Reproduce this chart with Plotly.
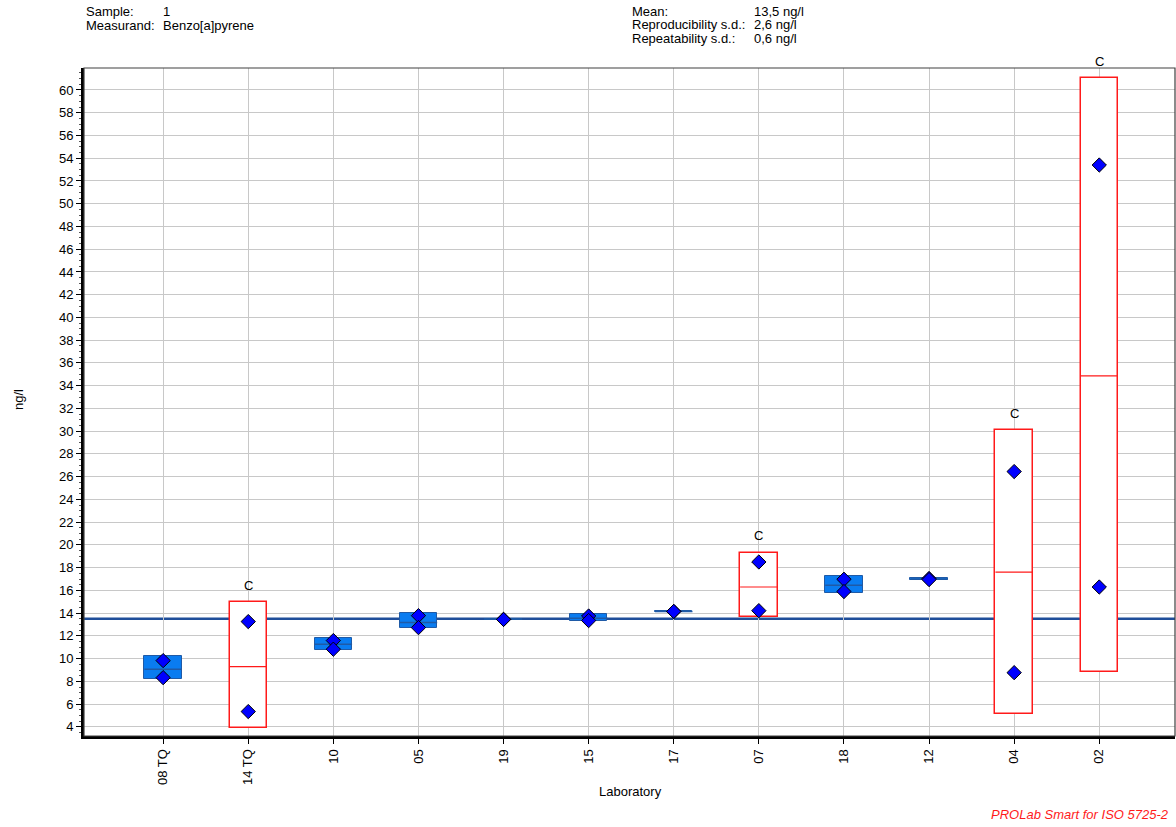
import plotly.graph_objects as go

# ---- data ----
labs = ["08 TQ", "14 TQ", "10", "05", "19", "15", "17", "07", "18", "12", "04", "02"]
box_low = [8.19, 3.94, 10.77, 12.68, 13.40, 13.35, 14.10, 13.70, 15.80, 16.93, 5.17, 8.80]
box_high = [10.27, 14.96, 11.85, 14.00, 13.52, 13.90, 14.18, 19.30, 17.27, 17.08, 30.10, 61.05]
box_mid = [9.07, 9.30, 11.27, 13.17, 13.46, 13.55, 14.14, 16.30, 16.46, 17.01, 17.60, 34.86]
value_a = [9.83, 13.26, 11.59, 13.78, 13.45, 13.75, 14.15, 18.50, 16.98, 17.05, 26.45, 53.40]
value_b = [8.33, 5.35, 10.83, 12.73, 13.45, 13.35, 14.15, 14.22, 15.90, 16.95, 8.77, 16.30]
flag_c = [False, True, False, False, False, False, False, True, False, False, True, True]
MEAN = 13.5
y_ticks = list(range(4, 61, 2))

header_left = [("Sample:", "1"), ("Measurand:", "Benzo[a]pyrene")]
header_right = [("Mean:", "13,5 ng/l"), ("Reproducibility s.d.:", "2,6 ng/l"),
                ("Repeatability s.d.:", "0,6 ng/l")]

HALF = 0.22
xs = list(range(len(labs)))
ok = [i for i in xs if not flag_c[i]]
bad = [i for i in xs if flag_c[i]]

fig = go.Figure()

fig.add_trace(go.Bar(
    x=ok, base=[box_low[i] for i in ok],
    y=[box_high[i] - box_low[i] for i in ok],
    width=2 * HALF, marker=dict(color="#0a7cf0", line=dict(color="#1f5aa6", width=1)),
    hoverinfo="skip", showlegend=False))
fig.add_trace(go.Bar(
    x=bad, base=[box_low[i] for i in bad],
    y=[box_high[i] - box_low[i] for i in bad],
    width=2 * HALF, marker=dict(color="white", line=dict(color="#ff1a1a", width=1.5)),
    hoverinfo="skip", showlegend=False))


def seg(idx):
    X, Y = [], []
    for i in idx:
        X += [i - HALF, i + HALF, None]
        Y += [box_mid[i], box_mid[i], None]
    return X, Y


mx, my = seg(ok)
fig.add_trace(go.Scatter(x=mx, y=my, mode="lines", line=dict(color="#1f5aa6", width=1.5),
                         showlegend=False, hoverinfo="skip"))
mx, my = seg(bad)
fig.add_trace(go.Scatter(x=mx, y=my, mode="lines", line=dict(color="#ff1a1a", width=1.2),
                         showlegend=False, hoverinfo="skip"))

fig.add_trace(go.Scatter(x=xs + xs, y=value_a + value_b, mode="markers",
                         marker=dict(symbol="diamond", size=11, color="#0000ff",
                                     line=dict(color="black", width=1)),
                         showlegend=False))

fig.add_shape(type="line", xref="paper", x0=0, x1=1, yref="y", y0=MEAN, y1=MEAN,
              line=dict(color="#1f4e9a", width=2.5), layer="between")

fig.add_shape(type="rect", xref="paper", yref="paper", x0=0, x1=1, y0=0, y1=1,
              line=dict(color="#404040", width=1.2), layer="above")

for i in bad:
    fig.add_annotation(x=i, y=box_high[i], text="C", showarrow=False, yshift=17,
                       font=dict(size=13, color="black"))

font = "Liberation Sans, Arial, sans-serif"
W, H = 1176, 827
L, R, T, B = 84, 1, 68, 91
pw, ph = W - L - R, H - T - B


def px(xp):
    return (xp - L) / pw


def py(yp):
    return (H - B - yp) / ph


FS = 13
for k, (a, b) in enumerate(header_left):
    yy = py(11 + 14 * k)
    fig.add_annotation(xref="paper", yref="paper", x=px(84), y=yy, text=a, showarrow=False,
                       xanchor="left", yanchor="middle", font=dict(size=FS))
    fig.add_annotation(xref="paper", yref="paper", x=px(161), y=yy, text=b, showarrow=False,
                       xanchor="left", yanchor="middle", font=dict(size=FS))
for k, (a, b) in enumerate(header_right):
    yy = py(11 + 13.5 * k)
    fig.add_annotation(xref="paper", yref="paper", x=px(630), y=yy, text=a, showarrow=False,
                       xanchor="left", yanchor="middle", font=dict(size=FS))
    fig.add_annotation(xref="paper", yref="paper", x=px(752), y=yy, text=b, showarrow=False,
                       xanchor="left", yanchor="middle", font=dict(size=FS))

fig.add_annotation(xref="paper", yref="paper", x=px(1171), y=py(814),
                   text="<i>PROLab Smart for ISO 5725-2</i>", showarrow=False,
                   xanchor="right", yanchor="middle", font=dict(size=FS, color="#ff1a1a"))
fig.add_annotation(xref="paper", yref="paper", x=px(630), y=py(791), text="Laboratory",
                   showarrow=False, xanchor="center", yanchor="middle", font=dict(size=FS))
fig.add_annotation(xref="paper", yref="paper", x=px(18), y=py(400), text="ng/l",
                   showarrow=False, textangle=-90, xanchor="center", yanchor="middle",
                   font=dict(size=FS))

fig.update_layout(
    width=W, height=H, margin=dict(l=L, r=R, t=T, b=B),
    plot_bgcolor="white", paper_bgcolor="white",
    font=dict(family=font, size=FS, color="black"),
    showlegend=False, barmode="overlay", bargap=0,
    xaxis=dict(range=[-0.93, 11.89], tickmode="array", tickvals=xs, ticktext=labs,
               tickangle=-90, showgrid=True, gridcolor="#c8c8c8", gridwidth=1,
               zeroline=False, showline=True, linecolor="black", linewidth=3,
               ticks="outside", ticklen=5, tickcolor="black", tickfont=dict(size=FS)),
    yaxis=dict(range=[3.2, 61.93], tickmode="array", tickvals=y_ticks,
               showgrid=True, gridcolor="#c8c8c8", gridwidth=1,
               zeroline=False, showline=True, linecolor="black", linewidth=3,
               ticks="outside", ticklen=5, tickcolor="black", tickfont=dict(size=FS),
               minor=dict(dtick=0.5, ticks="outside", ticklen=2, tickcolor="#555",
                          showgrid=False)),
)

fig.write_html("out.html", config={"displayModeBar": False},
               post_script="document.body.style.margin='0';document.body.style.overflow='hidden';")
